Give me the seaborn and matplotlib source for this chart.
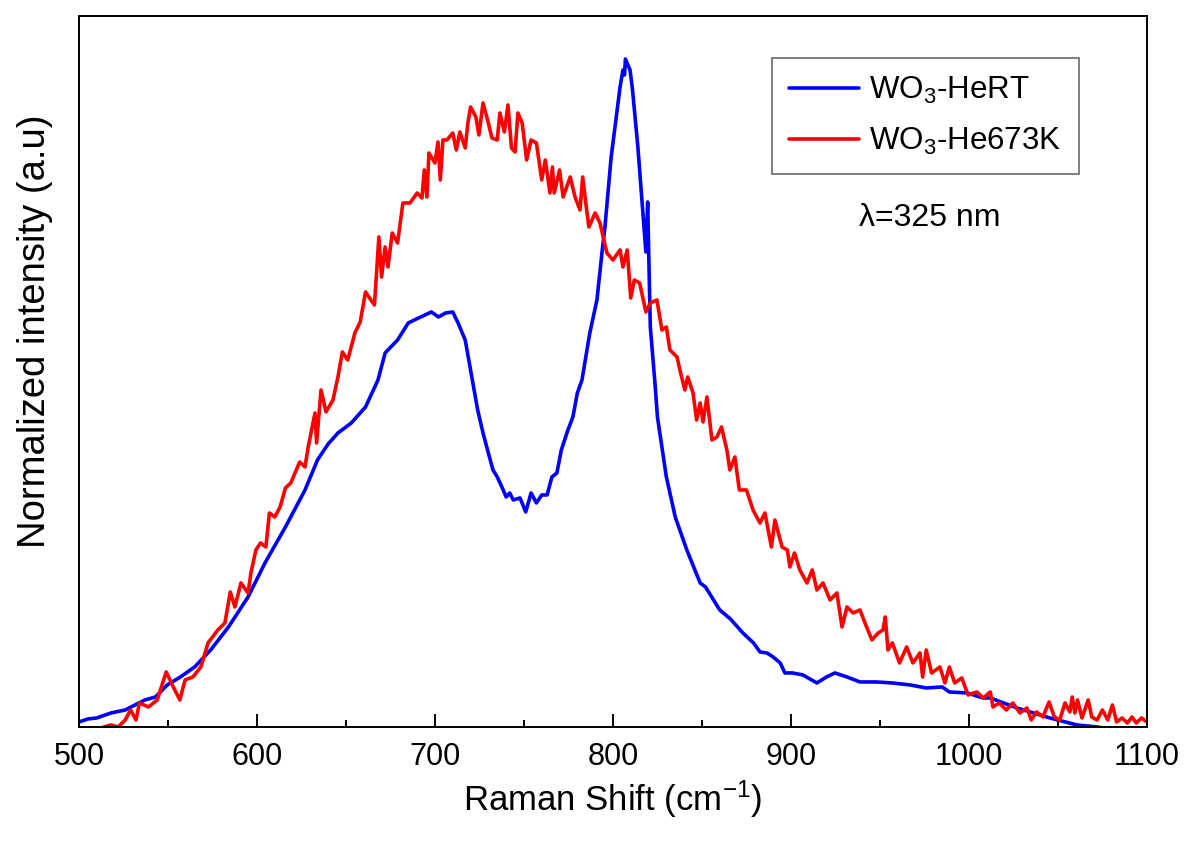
import numpy as np
import pandas as pd
import seaborn as sns
import matplotlib
matplotlib.use("Agg")
from matplotlib import pyplot as plt
from matplotlib.ticker import MultipleLocator

# Raman spectrum (x in cm-1, raw intensity in a.u.)
hert_shift = [500, 505, 510, 518, 526, 537, 543, 549.6, 557, 565, 574, 584, 595, 604.5,
              616, 627, 634, 640, 645.5, 653, 661, 668, 672, 679, 685, 692, 698, 702,
              706, 710, 713, 717, 721, 724, 727, 730, 732.6, 735, 737.6, 740, 742, 744,
              747.8, 751, 754, 757, 760, 763, 765.7, 768.5, 771, 774.7, 777.5, 780,
              782.6, 787, 791, 794, 795.5, 799, 804, 805.6, 806.5, 807, 809.6, 811, 814,
              817, 818.5, 819.5, 820.5, 821, 823.6, 825, 830, 835, 841.5, 849, 852, 860,
              866, 873, 879, 882.6, 886.5, 890, 894, 896.6, 901, 906.7, 914.6, 920,
              924.7, 931.5, 938.8, 948, 957, 967, 976, 985, 989, 999, 1008, 1012, 1027,
              1045.5, 1060.7, 1072, 1085, 1100]
hert_int = [5, 8, 9, 14, 17, 27, 30, 42, 50, 60, 77, 100, 130, 164,
            200, 237, 267, 283, 294, 304, 320, 347, 374, 387, 404, 410, 415, 410,
            414, 415, 404, 387, 347, 317, 294, 274, 257, 250, 240, 230, 234, 227,
            229, 215, 234, 224, 232, 232, 250, 254, 277, 297, 310, 334,
            347, 394, 427, 477, 500, 570, 640, 657, 652, 668, 657, 637, 580,
            510, 475, 525, 440, 400, 344, 310, 250, 210, 177, 144, 140, 117,
            108, 94, 84, 75, 74, 70, 64, 54, 54, 52, 44, 50,
            54, 50, 45, 45, 44, 42, 39, 40, 35, 34, 29, 29, 19,
            9, 2, 0, -4, -6]

he673_shift = [500, 510, 514, 518, 522, 526, 529, 532, 534, 539, 544, 549, 553, 556.7,
               559.6, 564, 568.5, 572.5, 578, 582, 585, 587.6, 591, 595, 596.6, 599.4,
               602, 605, 607, 610, 613, 616, 619, 624, 627, 628.7, 632.6, 633.5, 636,
               638.8, 642.7, 645.5, 648, 651, 655, 658, 661, 664, 666, 668.5, 670, 672,
               673.6, 676, 679, 682, 686, 690, 692.7, 694, 695.5, 696.6, 700, 701.7,
               703, 704.5, 706.7, 710, 712, 714, 717, 718.5, 720, 723, 724.7, 727, 730,
               732, 735, 736.5, 739, 741, 743, 745, 746.6, 749, 751.5, 754, 757, 760,
               762, 764.6, 766, 767, 770, 772, 776, 778.7, 781.5, 783, 785, 786.5, 790,
               792.7, 796.6, 800, 804, 805.6, 808, 810, 812, 815, 818.5, 821, 824.7,
               827.5, 830, 832, 836, 837.6, 840.4, 842, 845, 847, 849, 850.6, 852.8,
               855.6, 858.4, 861, 864, 865.7, 868.5, 871, 875, 878.7, 882.6, 885.4, 889,
               891, 895, 898, 899.4, 902, 905, 909, 912, 914.6, 918, 922, 925.8, 928.7,
               931.5, 935, 938.8, 941.6, 945.5, 949, 951.7, 953, 954.5, 957, 961, 965,
               968.5, 972.5, 974, 976, 979, 983.7, 986.5, 989, 992, 996, 999.5, 1004.5,
               1008, 1012, 1013.5, 1017, 1021, 1024.7, 1028.7, 1032.6, 1035, 1038,
               1041.6, 1045, 1048, 1051, 1054, 1056.7, 1058, 1059.5, 1061, 1063.5, 1067,
               1069, 1072, 1075, 1078, 1080.6, 1083, 1086, 1089, 1091.6, 1094, 1097, 1100]
he673_int = [-8, -4, 0, 2, 0, 7, 17, 7, 24, 20, 27, 55, 40, 27,
             47, 50, 60, 84, 97, 104, 135, 120, 144, 134, 154, 177,
             184, 180, 214, 210, 220, 239, 244, 265, 260, 279, 314, 284, 337,
             315, 327, 350, 375, 367, 394, 405, 435, 427, 422, 490, 450, 480,
             460, 494, 484, 524, 524, 534, 529, 557, 530, 574, 564, 585,
             547, 587, 587, 594, 577, 595, 579, 604, 620, 610, 592, 624, 604,
             589, 587, 614, 595, 622, 579, 575, 614, 604, 567, 587, 584, 547,
             567, 534, 560, 534, 557, 530, 550, 530, 517, 550, 520, 500, 514,
             504, 474, 467, 477, 460, 477, 429, 447, 444, 415, 424, 427,
             397, 400, 377, 370, 357, 337, 350, 334, 307, 324, 305, 330,
             287, 290, 300, 277, 257, 270, 237, 237, 217, 204, 214, 180,
             207, 180, 177, 160, 174, 157, 144, 157, 137, 144, 127, 134, 100,
             120, 114, 117, 104, 87, 94, 97, 110, 77, 84, 64, 80,
             64, 74, 50, 77, 54, 60, 44, 60, 44, 49, 32, 35,
             29, 35, 20, 24, 17, 24, 14, 19, 7, 15,
             10, 25, 10, 7, 24, 15, 30, 14, 27, 9, 27,
             10, 7, 17, 7, 22, 5, 9, 4, 10, 4, 9, 5]

labels = ["WO$\\mathregular{_3}$-HeRT", "WO$\\mathregular{_3}$-He673K"]
colors = ["#0000ff", "#ff0000"]

# normalize to the HeRT peak
norm = max(hert_int)
df = pd.concat([
    pd.DataFrame({"shift": hert_shift, "inten": np.array(hert_int) / norm, "sample": labels[0]}),
    pd.DataFrame({"shift": he673_shift, "inten": np.array(he673_int) / norm, "sample": labels[1]}),
])

sns.set_style("white")
plt.rcParams['font.family'] = ['Liberation Sans', 'DejaVu Sans']
plt.rcParams['mathtext.fontset'] = 'custom'
plt.rcParams['mathtext.rm'] = 'Liberation Sans'
plt.rcParams['text.color'] = 'black'
plt.rcParams['axes.labelcolor'] = 'black'

fig = plt.figure(figsize=(11.91, 8.41), dpi=100)
ax = fig.add_axes([0.0663, 0.1356, 0.8967, 0.8454])

sns.lineplot(data=df, x="shift", y="inten", hue="sample", palette=colors,
             estimator=None, sort=False, linewidth=2.6, ax=ax)

ax.set_xlim(500, 1100)
ax.set_ylim(0, 711 / norm)
ax.xaxis.set_major_locator(MultipleLocator(100))
ax.xaxis.set_minor_locator(MultipleLocator(50))
ax.set_yticks([])
ax.tick_params(axis='x', which='both', direction='in', bottom=True, top=False,
               width=1.4, labelsize=22, pad=11, colors='black')
ax.tick_params(axis='x', which='major', length=9.5)
ax.tick_params(axis='x', which='minor', length=5)
for s in ax.spines.values():
    s.set_color('black')
    s.set_linewidth(1.4)

ax.set_xlabel("Raman Shift (cm$\\mathregular{^{-1}}$)", fontsize=25, color='black')
ax.xaxis.set_label_coords(0.5, -0.0725)
ax.set_ylabel("Normalized intensity (a.u)", fontsize=27.5, color='black')
ax.yaxis.set_label_coords(-0.024, 0.556)

leg = ax.legend(loc='upper right', bbox_to_anchor=(0.936, 0.941), borderaxespad=0,
                fontsize=22.5, frameon=True, fancybox=False, edgecolor='#444444',
                handlelength=2.25, handletextpad=0.32, labelspacing=0.62,
                borderpad=0.55, labelcolor='black')
leg.get_frame().set_linewidth(1.2)

ax.text(0.797, 0.716, "λ=325 nm", transform=ax.transAxes, fontsize=23,
        ha='center', va='center', color='black',
        family=['Liberation Sans', 'DejaVu Sans'])

fig.savefig("out.png", dpi=100)
